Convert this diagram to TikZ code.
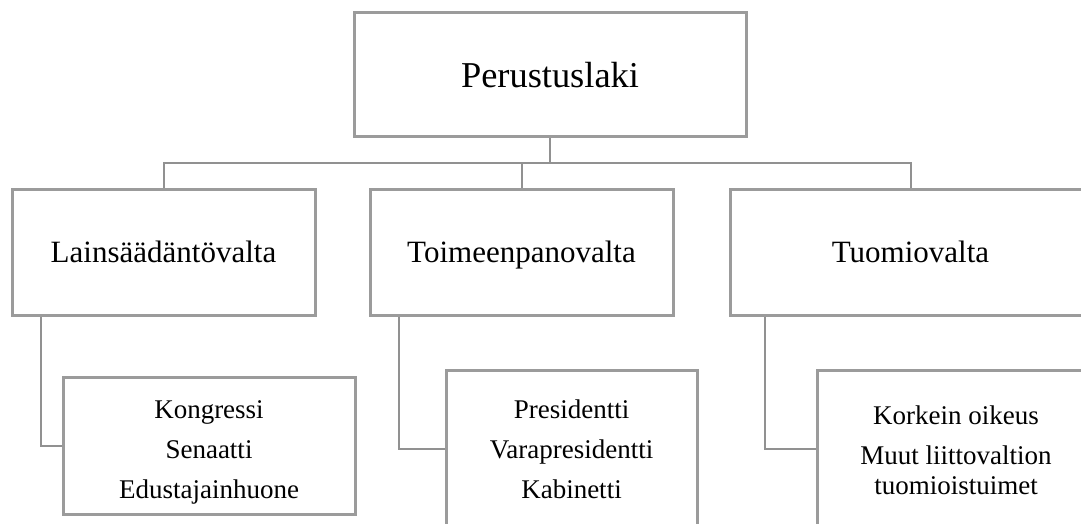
\documentclass[tikz,border=0pt]{standalone}
\usepackage{fontspec}
\setmainfont{Liberation Serif}
\definecolor{boxgray}{RGB}{155,155,155}
\definecolor{linegray}{RGB}{145,145,145}
\tikzset{
  box/.style={draw=boxgray, line width=3pt, fill=white, inner sep=0pt, align=center, text=black},
  conn/.style={draw=linegray, line width=2pt},
  topfont/.style={font=\fontsize{36.4}{40}\selectfont, text height=25pt, text depth=0pt},
  midfont/.style={font=\fontsize{31}{34}\selectfont, text height=21pt, text depth=0pt},
  lowfont/.style={font=\fontsize{27}{30}\selectfont, text depth=0pt},
}
\begin{document}
\begin{tikzpicture}[x=1pt, y=-1pt]
\useasboundingbox (0,0) rectangle (1081,524);
\clip (0,0) rectangle (1081,524);
\fill[white] (0,0) rectangle (1081,524);
% top
\node[box, topfont, minimum width=392pt, minimum height=124pt] (top) at (550,75) {Perustuslaki};
% middle
\node[box, midfont, minimum width=303pt, minimum height=126pt] (m1) at (163.5,252) {Lainsäädäntövalta};
\node[box, midfont, minimum width=303pt, minimum height=126pt] (m2) at (521.5,252) {Toimeenpanovalta};
\node[box, midfont, minimum width=361pt, minimum height=126pt] (m3) at (910.5,252) {Tuomiovalta};
% lower
\node[box, lowfont, minimum width=292pt, minimum height=137pt] (l1) at (209,445.5) {\rule{0pt}{26pt}Kongressi\\[10pt]Senaatti\\[10pt]Edustajainhuone};
\node[box, lowfont, minimum width=251pt, minimum height=158pt] (l2) at (571.5,449) {Presidentti\\[10pt]Varapresidentti\\[10pt]Kabinetti};
\node[box, lowfont, minimum width=278pt, minimum height=158pt] (l3) at (956,449) {\rule{0pt}{21pt}Korkein oikeus\\[10pt]Muut liittovaltion\\tuomioistuimet};
% bus
\coordinate (bus) at (0,163);
\draw[conn] (top.south) -- (top.south |- bus);
\draw[conn] (m1.north) -- (m1.north |- bus) -- (m3.north |- bus) -- (m3.north);
\draw[conn] (m2.north) -- (m2.north |- bus);
% lower connectors
\coordinate (d1) at ([xshift=30pt]m1.south west);
\coordinate (d2) at ([xshift=30pt]m2.south west);
\coordinate (d3) at ([xshift=36pt]m3.south west);
\draw[conn] (d1) |- (l1.west);
\draw[conn] (d2) |- (l2.west);
\draw[conn] (d3) |- (l3.west);
\end{tikzpicture}
\end{document}
